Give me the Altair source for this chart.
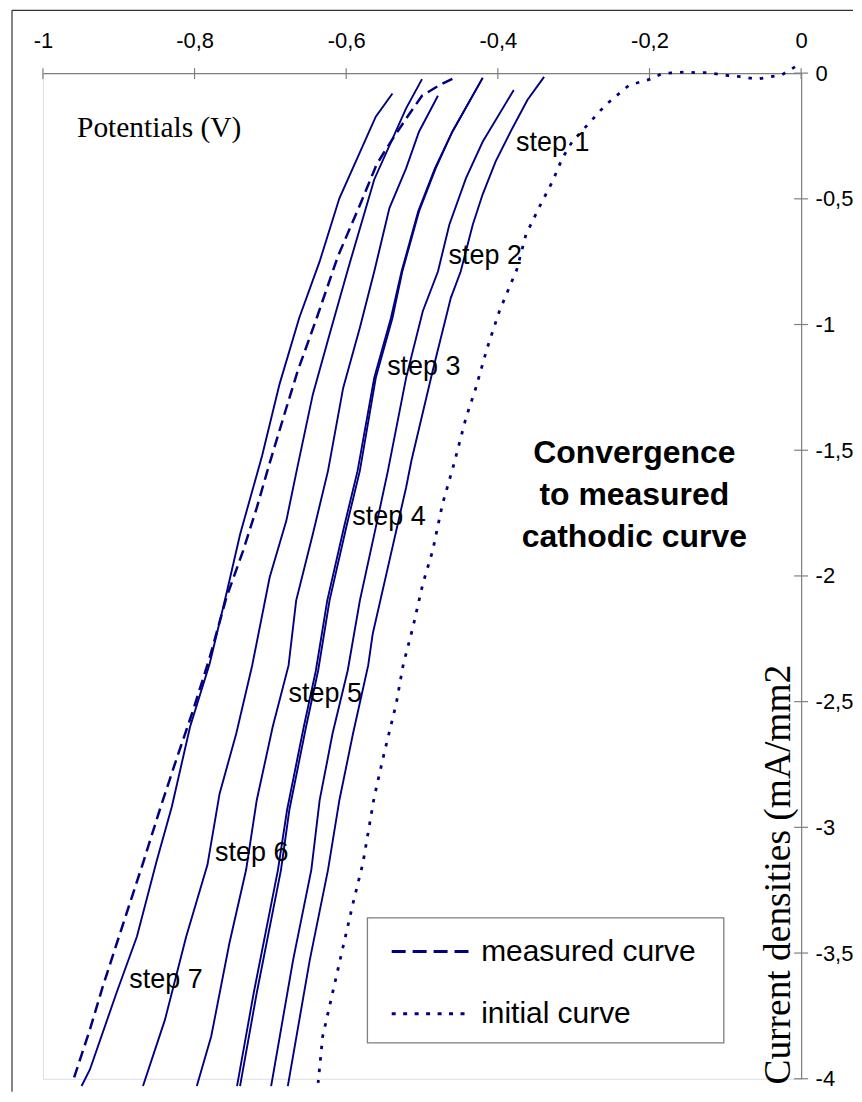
import altair as alt
import pandas as pd

# ---------------- data (potential in V, current density in mA/mm2) ----------------
x_ticks = [-1, -0.8, -0.6, -0.4, -0.2, 0]
y_ticks = [0, -0.5, -1, -1.5, -2, -2.5, -3, -3.5, -4]

step1_potential = [-0.339, -0.361, -0.381, -0.403, -0.420, -0.433, -0.449, -0.462, -0.486, -0.514, -0.521, -0.543, -0.565, -0.571, -0.591, -0.609, -0.624, -0.648, -0.677]
step1_current = [-0.015, -0.107, -0.220, -0.352, -0.482, -0.602, -0.789, -0.894, -1.185, -1.542, -1.648, -1.939, -2.230, -2.356, -2.627, -2.892, -3.169, -3.527, -4.029]

step2_potential = [-0.379, -0.420, -0.442, -0.464, -0.479, -0.499, -0.521, -0.545, -0.561, -0.582, -0.598, -0.618, -0.635, -0.646, -0.670, -0.699]
step2_current = [-0.067, -0.273, -0.418, -0.603, -0.789, -0.947, -1.212, -1.582, -1.807, -2.098, -2.376, -2.627, -2.892, -3.169, -3.527, -4.029]

step3_potential = [-0.420, -0.460, -0.482, -0.504, -0.526, -0.539, -0.561, -0.582, -0.600, -0.622, -0.637, -0.653, -0.675, -0.686, -0.718, -0.740]
step3_current = [-0.019, -0.233, -0.379, -0.550, -0.789, -0.974, -1.212, -1.582, -1.807, -2.098, -2.376, -2.601, -2.931, -3.169, -3.659, -4.029]

step4_potential = [-0.420, -0.460, -0.483, -0.505, -0.527, -0.541, -0.563, -0.585, -0.603, -0.625, -0.640, -0.656, -0.678, -0.690, -0.722, -0.744]
step4_current = [-0.019, -0.233, -0.379, -0.550, -0.789, -0.974, -1.212, -1.582, -1.807, -2.098, -2.376, -2.601, -2.931, -3.169, -3.659, -4.029]

step5_potential = [-0.479, -0.504, -0.521, -0.543, -0.563, -0.582, -0.604, -0.624, -0.644, -0.666, -0.676, -0.697, -0.718, -0.732, -0.754, -0.778, -0.797]
step5_current = [-0.090, -0.233, -0.379, -0.537, -0.789, -1.013, -1.252, -1.582, -1.833, -2.098, -2.356, -2.601, -2.892, -3.169, -3.460, -3.831, -4.029]

step6_potential = [-0.500, -0.521, -0.563, -0.597, -0.622, -0.644, -0.664, -0.679, -0.701, -0.724, -0.745, -0.767, -0.783, -0.811, -0.839, -0.868]
step6_current = [-0.024, -0.140, -0.423, -0.773, -1.040, -1.278, -1.562, -1.781, -2.006, -2.356, -2.627, -2.866, -3.149, -3.434, -3.765, -4.029]

step7_potential = [-0.539, -0.561, -0.609, -0.635, -0.662, -0.688, -0.711, -0.740, -0.758, -0.780, -0.806, -0.830, -0.850, -0.876, -0.903, -0.938, -0.949]
step7_current = [-0.081, -0.173, -0.498, -0.749, -0.974, -1.238, -1.523, -1.835, -2.071, -2.348, -2.601, -2.918, -3.134, -3.434, -3.659, -3.963, -4.029]

measured_potential = [-0.460, -0.476, -0.500, -0.521, -0.547, -0.560, -0.580, -0.611, -0.639, -0.664, -0.679, -0.702, -0.718, -0.736, -0.758, -0.780, -0.802, -0.823, -0.846, -0.868, -0.898, -0.921, -0.938, -0.961]
measured_current = [-0.023, -0.046, -0.090, -0.181, -0.300, -0.364, -0.511, -0.729, -0.975, -1.185, -1.332, -1.562, -1.729, -1.900, -2.086, -2.324, -2.535, -2.721, -2.931, -3.142, -3.419, -3.633, -3.804, -4.015]

initial_potential = [-0.008, -0.026, -0.041, -0.059, -0.076, -0.092, -0.107, -0.122, -0.139, -0.152, -0.171, -0.184, -0.199, -0.227, -0.240, -0.258, -0.280, -0.302, -0.315, -0.328, -0.346, -0.363, -0.375, -0.398, -0.414, -0.429, -0.442, -0.458, -0.473, -0.486, -0.499, -0.512, -0.525, -0.534, -0.550, -0.563, -0.578, -0.591, -0.607, -0.618, -0.631, -0.637]
initial_current = [0.025, -0.008, -0.015, -0.024, -0.015, -0.011, -0.006, 0.002, 0.002, 0.005, 0.001, -0.003, -0.024, -0.048, -0.081, -0.127, -0.200, -0.273, -0.339, -0.431, -0.537, -0.643, -0.781, -0.947, -1.093, -1.252, -1.371, -1.556, -1.714, -1.900, -2.032, -2.204, -2.356, -2.508, -2.706, -2.879, -3.143, -3.302, -3.513, -3.659, -3.831, -4.016]

step_names = ["step 1", "step 2", "step 3", "step 4", "step 5", "step 6", "step 7"]

# ---------------- tables ----------------
steps = [
    (step1_potential, step1_current), (step2_potential, step2_current),
    (step3_potential, step3_current), (step4_potential, step4_current),
    (step5_potential, step5_current), (step6_potential, step6_current),
    (step7_potential, step7_current),
]
rows = []
for name, (px, cy) in zip(step_names, steps):
    for i, (p, c) in enumerate(zip(px, cy)):
        rows.append({"series": name, "idx": i, "potential": p, "current": c})
steps_df = pd.DataFrame(rows)
measured_df = pd.DataFrame({"potential": measured_potential, "current": measured_current,
                            "idx": list(range(len(measured_potential)))})
initial_df = pd.DataFrame({"potential": initial_potential, "current": initial_current,
                           "idx": list(range(len(initial_potential)))})

# annotation placement (layout, in data coordinates)
label_df = pd.DataFrame({
    "label": step_names,
    "potential": [-0.376, -0.465, -0.546, -0.592, -0.676, -0.773, -0.886],
    "current": [-0.279, -0.729, -1.169, -1.765, -2.468, -3.101, -3.609],
})

NAVY = "#000080"
GRAY = "#7f7f7f"

X_SCALE = alt.Scale(domain=[-1, 0], nice=False, zero=False)
Y_SCALE = alt.Scale(domain=[-4, 0], nice=False, zero=False)
X_AXIS = alt.Axis(orient="top", values=x_ticks, title=None, grid=False, ticks=True, tickSize=0,
                  labelPadding=20.5, labelFont="Liberation Sans", labelFontSize=22, labelColor="black",
                  labelBaseline="bottom", labelFlush=False, labelOverlap=False,
                  labelExpr="replace(toString(datum.value), '.', ',')",
                  domainColor=GRAY, domainWidth=1.2)
Y_AXIS = alt.Axis(orient="right", values=y_ticks, title=None, grid=False, ticks=True, tickSize=0,
                  labelPadding=14, labelFont="Liberation Sans", labelFontSize=22, labelColor="black",
                  labelAlign="left", labelBaseline="middle", labelFlush=False, labelOverlap=False,
                  labelExpr="replace(toString(datum.value), '.', ',')",
                  domainColor=GRAY, domainWidth=1.2)


def X(field="potential"):
    return alt.X(f"{field}:Q", scale=X_SCALE, axis=X_AXIS)


def Y(field="current"):
    return alt.Y(f"{field}:Q", scale=Y_SCALE, axis=Y_AXIS)


dummy = pd.DataFrame({"a": [0]})

# frame (top and left edges)
frame_top = alt.Chart(dummy).mark_rule(color="#333333", strokeWidth=1.2).encode(
    x=alt.value(-31), x2=alt.value(812), y=alt.value(-63))
frame_left = alt.Chart(dummy).mark_rule(color="#333333", strokeWidth=1.2).encode(
    x=alt.value(-31), y=alt.value(-63), y2=alt.value(1021))

# crossing tick marks
xtick_df = pd.DataFrame({"potential": x_ticks})
ytick_df = pd.DataFrame({"current": y_ticks})
xticks = alt.Chart(xtick_df).mark_rule(color=GRAY, strokeWidth=1.2).encode(
    x=X(), y=alt.value(-5), y2=alt.value(6))
yticks = alt.Chart(ytick_df).mark_rule(color=GRAY, strokeWidth=1.2).encode(
    y=Y(), x=alt.value(753), x2=alt.value(767))

step_lines = alt.Chart(steps_df).mark_line(color=NAVY, strokeWidth=1.9, clip=False).encode(
    x=X(), y=Y(), detail="series:N", order="idx:Q")
measured_line = alt.Chart(measured_df).mark_line(color=NAVY, strokeWidth=2.5, strokeDash=[11, 6], clip=False).encode(
    x=X(), y=Y(), order="idx:Q")
initial_line = alt.Chart(initial_df).mark_line(color=NAVY, strokeWidth=2.8, strokeDash=[3.5, 8], clip=False).encode(
    x=X(), y=Y(), order="idx:Q")

step_labels = alt.Chart(label_df).mark_text(font="Liberation Sans", fontSize=27, align="left",
                                             baseline="middle", color="black").encode(
    x=X(), y=Y(), text="label:N")

title_df = pd.DataFrame({"label": ["Convergence", "to measured", "cathodic curve"],
                         "potential": [-0.220, -0.220, -0.220],
                         "current": [-1.511, -1.677, -1.844]})
title_text = alt.Chart(title_df).mark_text(font="Liberation Sans", fontSize=32, fontWeight="bold",
                                           align="center", baseline="middle", color="black").encode(
    x=X(), y=Y(), text="label:N")

xtitle_df = pd.DataFrame({"label": ["Potentials (V)"], "potential": [-0.955], "current": [-0.2528]})
xtitle = alt.Chart(xtitle_df).mark_text(font="Liberation Serif", fontSize=29.5, align="left",
                                        baseline="alphabetic", color="black").encode(
    x=X(), y=Y(), text="label:N")

ytitle_df = pd.DataFrame({"label": ["Current densities (mA/mm2"], "potential": [-0.0145], "current": [-4.023]})
ytitle = alt.Chart(ytitle_df).mark_text(font="Liberation Serif", fontSize=37.5, align="left", angle=270,
                                        baseline="alphabetic", color="black").encode(
    x=X(), y=Y(), text="label:N")

# legend
box_df = pd.DataFrame({"potential": [-0.572], "potential2": [-0.102], "current": [-3.360], "current2": [-3.857]})
legend_box = alt.Chart(box_df).mark_rect(fill="white", stroke=GRAY, strokeWidth=1.3).encode(
    x=X(), x2="potential2:Q", y=Y(), y2="current2:Q")
leg_dash_df = pd.DataFrame({"potential": [-0.540, -0.434], "current": [-3.494, -3.494]})
leg_dot_df = pd.DataFrame({"potential": [-0.540, -0.437], "current": [-3.741, -3.741]})
leg_dash = alt.Chart(leg_dash_df).mark_line(color=NAVY, strokeWidth=3, strokeDash=[14, 7]).encode(x=X(), y=Y())
leg_dot = alt.Chart(leg_dot_df).mark_line(color=NAVY, strokeWidth=3, strokeDash=[4, 7.5]).encode(x=X(), y=Y())
leg_text_df = pd.DataFrame({"label": ["measured curve", "initial curve"],
                            "potential": [-0.422, -0.422], "current": [-3.494, -3.742]})
leg_text = alt.Chart(leg_text_df).mark_text(font="Liberation Sans", fontSize=30, align="left",
                                            baseline="middle", color="black").encode(
    x=X(), y=Y(), text="label:N")

chart = alt.layer(
    frame_top, frame_left, xticks, yticks,
    legend_box, leg_dash, leg_dot, leg_text,
    initial_line, measured_line, step_lines,
    step_labels, title_text, xtitle, ytitle,
).properties(
    width=760, height=1008,
    padding={"left": 3, "top": 0, "right": 0, "bottom": 0},
).configure_view(stroke="transparent").configure(background="white")

chart.save("out.html", embed_options={"renderer": "svg", "actions": False})
